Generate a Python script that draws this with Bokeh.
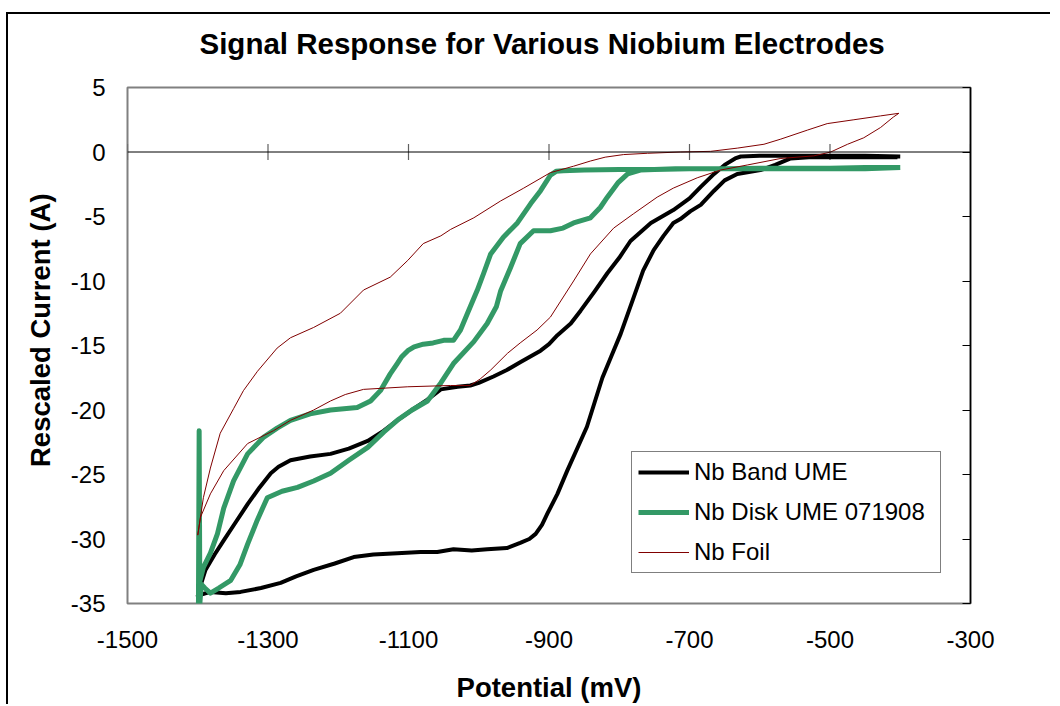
import numpy as np
from bokeh.plotting import figure
from bokeh.models import (Range1d, LinearAxis, FixedTicker, Span, Legend, LegendItem,
                          CustomJSTickFormatter, Title)
from bokeh.embed import file_html
from bokeh.resources import INLINE

# ---------------- data ----------------
x_ticks = [-1500, -1300, -1100, -900, -700, -500, -300]
y_ticks = [-35, -30, -25, -20, -15, -10, -5, 0, 5]

# Nb Band UME: cathodic sweep (-400 -> -1400) then anodic sweep (-1400 -> -400)
band_x = [-400, -450, -500, -550, -600, -627, -635, -650, -665, -684, -700, -723, -755,
          -784, -800, -817, -835, -855, -869, -888, -900, -912, -941, -960, -979, -1000,
          -1012, -1030, -1054, -1073, -1095, -1116, -1135, -1158, -1185, -1211, -1240,
          -1268, -1285, -1296, -1312, -1329, -1346, -1363, -1376, -1389, -1396, -1400,
          -1395, -1382, -1360, -1339, -1310, -1282, -1260, -1235, -1205, -1178, -1150,
          -1116, -1083, -1059, -1036, -1010, -988, -960, -941, -928, -919, -910, -902,
          -888, -874, -860, -846, -835, -824, -811, -798, -781, -766, -751, -737, -723,
          -713, -699, -684, -665, -650, -632, -599, -578, -556, -530, -500, -450, -404]
band_y = [-0.35, -0.3, -0.3, -0.3, -0.3, -0.35, -0.5, -1.0, -1.7, -2.7, -3.6, -4.5, -5.5,
          -6.9, -8.2, -9.4, -10.8, -12.3, -13.3, -14.2, -14.9, -15.4, -16.3, -16.9, -17.4, -17.9,
          -18.1, -18.2, -18.4, -19.2, -20.0, -20.8, -21.6, -22.4, -23.0, -23.4, -23.6,
          -23.9, -24.4, -24.9, -26.0, -27.3, -28.7, -30.1, -31.2, -32.4, -33.6, -34.4,
          -34.3, -34.1, -34.2, -34.1, -33.8, -33.4, -32.9, -32.4, -31.9, -31.4, -31.2,
          -31.1, -31.0, -31.0, -30.8, -30.9, -30.8, -30.7, -30.3, -30.0, -29.6, -28.9, -28.0,
          -26.5, -24.7, -23.0, -21.3, -19.4, -17.5, -15.8, -14.1, -11.5, -9.2, -7.6, -6.5, -5.5,
          -5.2, -4.6, -4.1, -3.0, -2.2, -1.7, -1.4, -1.0, -0.5, -0.4, -0.4, -0.4, -0.4]

# Nb Disk UME 071908
disk_x = [-400, -450, -500, -550, -600, -650, -700, -750, -800, -850, -880, -890, -898,
          -905, -912, -926, -945, -965, -983, -993, -1002, -1016, -1026, -1036, -1050,
          -1065, -1079, -1092, -1101, -1110, -1116, -1126, -1140, -1154, -1173, -1211,
          -1240, -1268, -1287, -1306, -1329, -1349, -1363, -1372, -1382, -1392, -1398,
          -1399, -1398, -1397, -1395,
          -1390, -1382, -1370, -1353, -1340, -1329, -1315, -1301, -1280, -1258, -1235,
          -1211, -1185, -1158, -1135, -1116, -1095, -1073, -1054, -1036, -1007, -988,
          -975, -969, -955, -941, -922, -898, -880, -865, -841, -827, -817, -802, -788,
          -770, -720, -650, -550, -450, -400]
disk_y = [-1.2, -1.2, -1.25, -1.25, -1.25, -1.3, -1.3, -1.35, -1.35, -1.4, -1.45, -1.5, -1.8,
          -2.4, -3.0, -4.0, -5.5, -6.6, -7.9, -9.4, -10.7, -12.5, -13.8, -14.6, -14.6,
          -14.8, -14.9, -15.1, -15.4, -15.9, -16.4, -17.2, -18.5, -19.3, -19.8, -20.0,
          -20.3, -20.8, -21.4, -22.1, -23.4, -25.5, -27.6, -29.6, -31.1, -32.2, -33.5,
          -35.0, -21.6, -35.0, -33.5,
          -33.8, -34.2, -33.8, -33.2, -32.0, -30.4, -28.5, -26.8, -26.3, -26.0, -25.5,
          -24.9, -23.9, -22.9, -21.7, -20.8, -20.0, -19.3, -17.9, -16.4, -14.7, -13.3,
          -12.0, -10.8, -9.0, -7.1, -6.1, -6.1, -5.9, -5.5, -5.1, -4.3, -3.5, -2.4, -1.7,
          -1.4, -1.3, -1.3, -1.3, -1.3, -1.2]

# Nb Foil
foil_x = [-402, -428, -466, -504, -532, -570, -594, -632, -670, -713, -760, -794, -820,
          -841, -865, -898, -936, -969, -1007, -1040, -1054, -1079, -1101, -1126, -1164,
          -1197, -1235, -1268, -1287, -1315, -1335, -1349, -1368, -1382, -1392, -1400,
          -1396, -1382, -1363, -1329, -1292, -1268, -1235, -1211, -1190, -1164, -1101,
          -1040, -1012, -998, -983, -959, -941, -917, -898, -865, -841, -808, -780, -746,
          -723, -689, -656, -617, -570, -523, -499, -475, -452, -428, -410, -402]
foil_y = [3.0, 2.8, 2.5, 2.2, 1.7, 1.0, 0.6, 0.3, 0.05, 0.0, -0.1, -0.2, -0.4,
          -0.7, -1.1, -1.6, -2.8, -3.8, -5.1, -6.0, -6.5, -7.1, -8.4, -9.7, -10.7,
          -12.5, -13.6, -14.4, -15.2, -17.0, -18.5, -19.9, -21.8, -24.5, -26.8, -29.7,
          -28.3, -26.5, -24.7, -22.6, -21.6, -20.8, -20.0, -19.3, -18.8, -18.4, -18.2,
          -18.1, -18.1, -17.6, -16.9, -15.6, -14.8, -13.8, -12.8, -10.0, -7.9, -5.9, -4.8, -3.5,
          -2.8, -2.0, -1.4, -1.0, -0.5, -0.3, 0.0, 0.6, 1.1, 1.9, 2.7, 3.0]

series_names = ["Nb Band UME", "Nb Disk UME 071908", "Nb Foil"]
series_colors = ["black", "#339966", "#800000"]
series_widths = [4, 5, 1]

title_text = "Signal Response for Various Niobium Electrodes"

FONT = "Liberation Sans"

# ---------------- figure ----------------
p = figure(width=1044, height=692,
           x_range=Range1d(-1500, -300), y_range=Range1d(-35, 5),
           output_backend="svg", toolbar_location=None,
           min_border_left=119, min_border_right=82,
           min_border_top=73, min_border_bottom=103,
           background_fill_color="white", border_fill_color="white",
           outline_line_color="#808080", outline_line_width=2)
p.styles = {"margin-left": "6px", "margin-top": "12px",
            "border-left": "2px solid black", "border-top": "2px solid black"}

p.xgrid.visible = False
p.ygrid.visible = False

# spacer between the frame and the title (keeps the title higher up)
p.add_layout(Title(text=" ", text_font_size="1px", standoff=25), "above")

p.title.text = title_text
p.title.align = "left"
p.title.offset = 72
p.title.text_font = FONT
p.title.text_font_size = "29.5px"
p.title.text_font_style = "bold"
p.title.text_color = "black"
p.title.standoff = 0

hyphen_fmt = "return tick.toString();"

# left axis: labels only
ya = p.yaxis[0]
ya.ticker = FixedTicker(ticks=y_ticks)
ya.formatter = CustomJSTickFormatter(code=hyphen_fmt)
ya.axis_line_color = None
ya.major_tick_line_color = None
ya.minor_tick_line_color = None
ya.major_tick_out = 0
ya.major_tick_in = 0
ya.major_label_standoff = 22
ya.major_label_text_font = FONT
ya.major_label_text_font_size = "24px"
ya.major_label_text_color = "black"
ya.axis_label = "\u00a0\u00a0\u00a0\u00a0Rescaled Current (A)"
ya.axis_label_text_font = FONT
ya.axis_label_text_font_size = "27.5px"
ya.axis_label_text_font_style = "bold"
ya.axis_label_text_color = "black"
ya.axis_label_standoff = 12

# right axis: line + inward ticks
ra = LinearAxis(ticker=FixedTicker(ticks=y_ticks), major_tick_in=8, major_tick_out=0,
                axis_line_color="black", axis_line_width=1.5,
                major_tick_line_color="black", minor_tick_line_color=None,
                major_label_text_color=None)
p.add_layout(ra, "right")

# bottom axis: labels only
xa = p.xaxis[0]
xa.ticker = FixedTicker(ticks=x_ticks)
xa.formatter = CustomJSTickFormatter(code=hyphen_fmt)
xa.axis_line_color = None
xa.major_tick_line_color = None
xa.minor_tick_line_color = None
xa.major_tick_out = 0
xa.major_tick_in = 0
xa.major_label_standoff = 27
xa.major_label_text_font = FONT
xa.major_label_text_font_size = "24px"
xa.major_label_text_color = "black"
xa.axis_label = "Potential (mV)"
xa.axis_label_text_font = FONT
xa.axis_label_text_font_size = "27.5px"
xa.axis_label_text_font_style = "bold"
xa.axis_label_text_color = "black"
xa.axis_label_standoff = 21

# horizontal axis line at y = 0 with crossing ticks
p.add_layout(Span(location=0, dimension="width", line_color="black", line_width=1))
p.scatter(x=x_ticks, y=[0] * len(x_ticks), marker="dash", angle=np.pi / 2, size=16,
          line_color="#606060", line_width=1.2)

renderers = []
for xs, ys, c, w in zip([band_x, disk_x, foil_x], [band_y, disk_y, foil_y],
                        series_colors, series_widths):
    r = p.line(xs, ys, line_color=c, line_width=w, line_join="round")
    renderers.append(r)

legend = Legend(items=[LegendItem(label=n, renderers=[r]) for n, r in zip(series_names, renderers)],
                location=(504, 30), margin=0, padding=6, spacing=12,
                label_height=28, glyph_height=28, glyph_width=51, label_standoff=5,
                label_width=240,
                border_line_color="black", border_line_width=1,
                background_fill_color="white", background_fill_alpha=1,
                label_text_font=FONT, label_text_font_size="24px", label_text_color="black")
p.add_layout(legend)

open("out.html", "w").write(file_html(p, INLINE))
